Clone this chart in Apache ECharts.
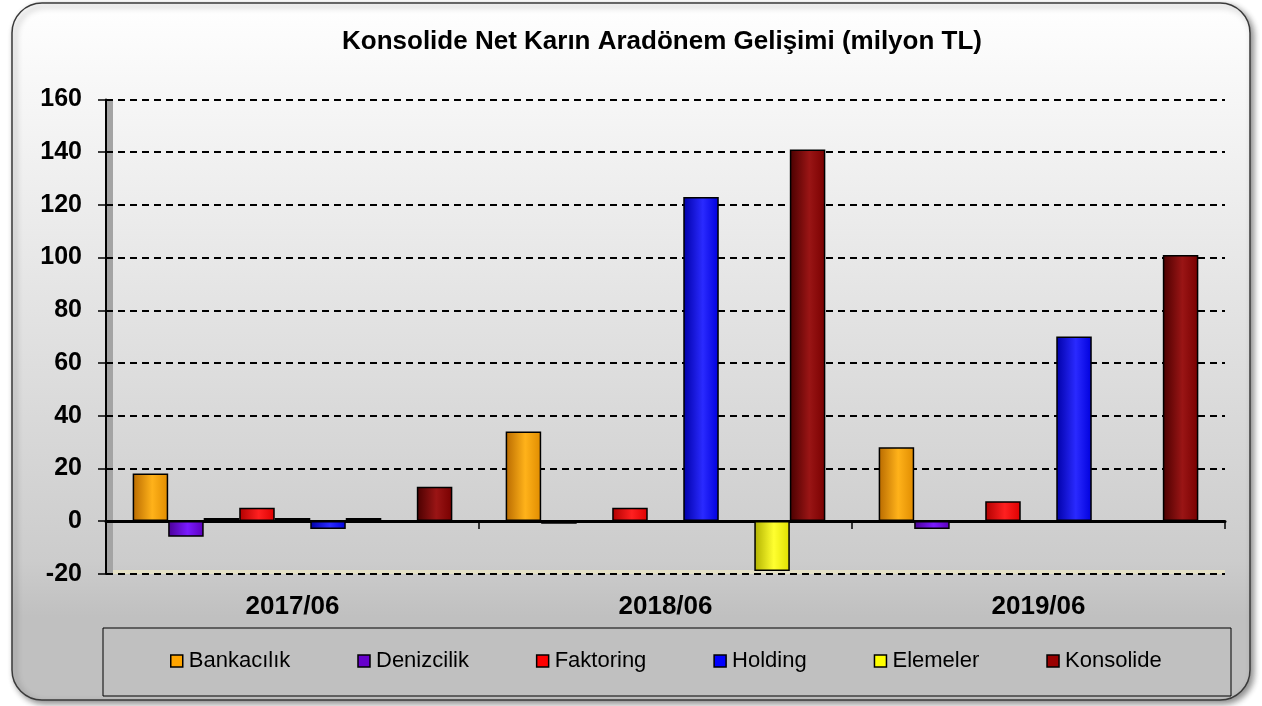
<!DOCTYPE html>
<html>
<head>
<meta charset="utf-8">
<script src="https://cdn.jsdelivr.net/npm/echarts@6/dist/echarts.min.js"></script>
<style>
  html, body { margin: 0; padding: 0; background: #ffffff; }
  #main { width: 1262px; height: 706px; }
</style>
</head>
<body>
<div id="main"></div>
<script>
// kategoriler ve seriler (milyon TL)
var donemler = ['2017/06', '2018/06', '2019/06'];
var bankacilik = [18, 34, 28];
var denizcilik = [-6, -1, -3];
var faktoring = [5, 5, 7.5];
var holding = [-3, 123, 70];
var elemeler = [null, -19, 0];
var konsolide = [13, 141, 101];
// legend'da gorunmeyen, sadece 2017'de disk olarak gorunen seriler
var gizli1 = [0, null, null];
var gizli2 = [0, null, null];
var gizli3 = [0, null, null];
var yTicks = { min: -20, max: 160, interval: 20 };

var chart = echarts.init(document.getElementById('main'));

function silindir(dark, light, mid) {
    return new echarts.graphic.LinearGradient(0, 0, 1, 0, [
        { offset: 0, color: dark },
        { offset: 0.55, color: light },
        { offset: 1, color: mid }
    ]);
}

function seri(name, data, c, legendli) {
    return {
        name: name,
        type: 'bar',
        data: data,
        barGap: '0%',
        barCategoryGap: '14.3%',
        barMinHeight: legendli ? 0 : 3,
        itemStyle: {
            color: silindir(c[0], c[1], c[2]),
            borderColor: '#000000',
            borderWidth: 1.5
        },
        emphasis: { disabled: true }
    };
}

var renkler = {
    'Bankacılık': ['#b86a00', '#ffb21a', '#e08c00'],
    'Denizcilik': ['#4a0096', '#7a1aff', '#5c00bb'],
    'Faktoring': ['#b00000', '#ff2020', '#dd0000'],
    'Holding': ['#0000a8', '#2a2aff', '#0000dd'],
    'Elemeler': ['#b0b000', '#ffff30', '#e0e000'],
    'Konsolide': ['#4a0000', '#9a1515', '#780000']
};

var option = {
    backgroundColor: '#ffffff',
    animation: false,
    graphic: [
        {
            type: 'rect',
            shape: { x: 12, y: 3, width: 1238, height: 697, r: 30 },
            style: {
                fill: new echarts.graphic.LinearGradient(0, 0, 0, 1, [
                    { offset: 0, color: '#ffffff' },
                    { offset: 0.8, color: '#cccccc' },
                    { offset: 0.88, color: '#c0c0c0' },
                    { offset: 1, color: '#c0c0c0' }
                ]),
                stroke: '#3a3a3a',
                lineWidth: 1.5,
                shadowColor: 'rgba(0,0,0,0.45)',
                shadowBlur: 6,
                shadowOffsetX: 3,
                shadowOffsetY: 3
            },
            z: -10
        },
        {
            type: 'rect',
            shape: { x: 106, y: 99, width: 7, height: 475 },
            style: { fill: '#a4a4a4' },
            z: -5
        },
        {
            type: 'rect',
            shape: { x: 113, y: 570, width: 1112, height: 4 },
            style: { fill: '#e4e0c6' },
            z: -5
        },
        {
            type: 'rect',
            shape: { x: 103, y: 628, width: 1128, height: 68 },
            style: { fill: '#c0c0c0', stroke: '#000000', lineWidth: 1 },
            z: -5
        },
        {
            type: 'text',
            x: 662,
            y: 42,
            style: {
                text: 'Konsolide Net Karın Aradönem Gelişimi (milyon TL)',
                font: 'bold 26px "Liberation Sans", Arial, sans-serif',
                fill: '#000000',
                textAlign: 'center',
                textVerticalAlign: 'middle'
            }
        }
    ],
    legend: {
        left: 170,
        top: 650,
        padding: 0,
        itemGap: 67,
        itemWidth: 12,
        itemHeight: 12,
        icon: 'rect',
        selectedMode: false,
        itemStyle: { borderColor: '#000000', borderWidth: 1.5 },
        textStyle: {
            fontFamily: '"Liberation Sans", Arial, sans-serif',
            fontSize: 22,
            color: '#000000',
            padding: [0, 0, 0, 1]
        },
        data: [
            { name: 'Bankacılık', itemStyle: { color: '#ffa500' } },
            { name: 'Denizcilik', itemStyle: { color: '#6600cc' } },
            { name: 'Faktoring', itemStyle: { color: '#ff0000' } },
            { name: 'Holding', itemStyle: { color: '#0000ff' } },
            { name: 'Elemeler', itemStyle: { color: '#ffff00' } },
            { name: 'Konsolide', itemStyle: { color: '#990000' } }
        ]
    },
    grid: {
        left: 106,
        right: 37,
        top: 99.5,
        bottom: 132.3,
        containLabel: false
    },
    xAxis: [
        {
            type: 'category',
            data: donemler,
            axisLine: { onZero: true, lineStyle: { color: '#000000', width: 3 } },
            axisTick: { show: true, length: 8, inside: false, lineStyle: { color: '#000000', width: 1.5 } },
            axisLabel: { show: false }
        },
        {
            type: 'category',
            data: donemler,
            position: 'bottom',
            axisLine: { show: false, onZero: false },
            axisTick: { show: false },
            axisLabel: {
                margin: 20,
                fontFamily: '"Liberation Sans", Arial, sans-serif',
                fontSize: 26,
                fontWeight: 'bold',
                color: '#000000'
            }
        }
    ],
    yAxis: {
        type: 'value',
        min: yTicks.min,
        max: yTicks.max,
        interval: yTicks.interval,
        axisLine: { show: true, lineStyle: { color: '#000000', width: 2 } },
        axisTick: { show: true, length: 8, lineStyle: { color: '#000000', width: 1.5 } },
        axisLabel: {
            margin: 24,
            fontFamily: '"Liberation Sans", Arial, sans-serif',
            fontSize: 25,
            fontWeight: 'bold',
            color: '#000000'
        },
        splitLine: {
            show: true,
            lineStyle: { color: '#000000', width: 2, type: [7, 5] }
        }
    },
    series: [
        seri('Bankacılık', bankacilik, renkler['Bankacılık'], true),
        seri('Denizcilik', denizcilik, renkler['Denizcilik'], true),
        seri('gizli1', gizli1, ['#222200', '#555522', '#333311'], false),
        seri('Faktoring', faktoring, renkler['Faktoring'], true),
        seri('gizli2', gizli2, ['#001133', '#224466', '#112244'], false),
        seri('Holding', holding, renkler['Holding'], true),
        seri('gizli3', gizli3, ['#220000', '#553333', '#331111'], false),
        seri('Elemeler', elemeler, renkler['Elemeler'], true),
        seri('Konsolide', konsolide, renkler['Konsolide'], true)
    ]
};

chart.setOption(option);
</script>
</body>
</html>
